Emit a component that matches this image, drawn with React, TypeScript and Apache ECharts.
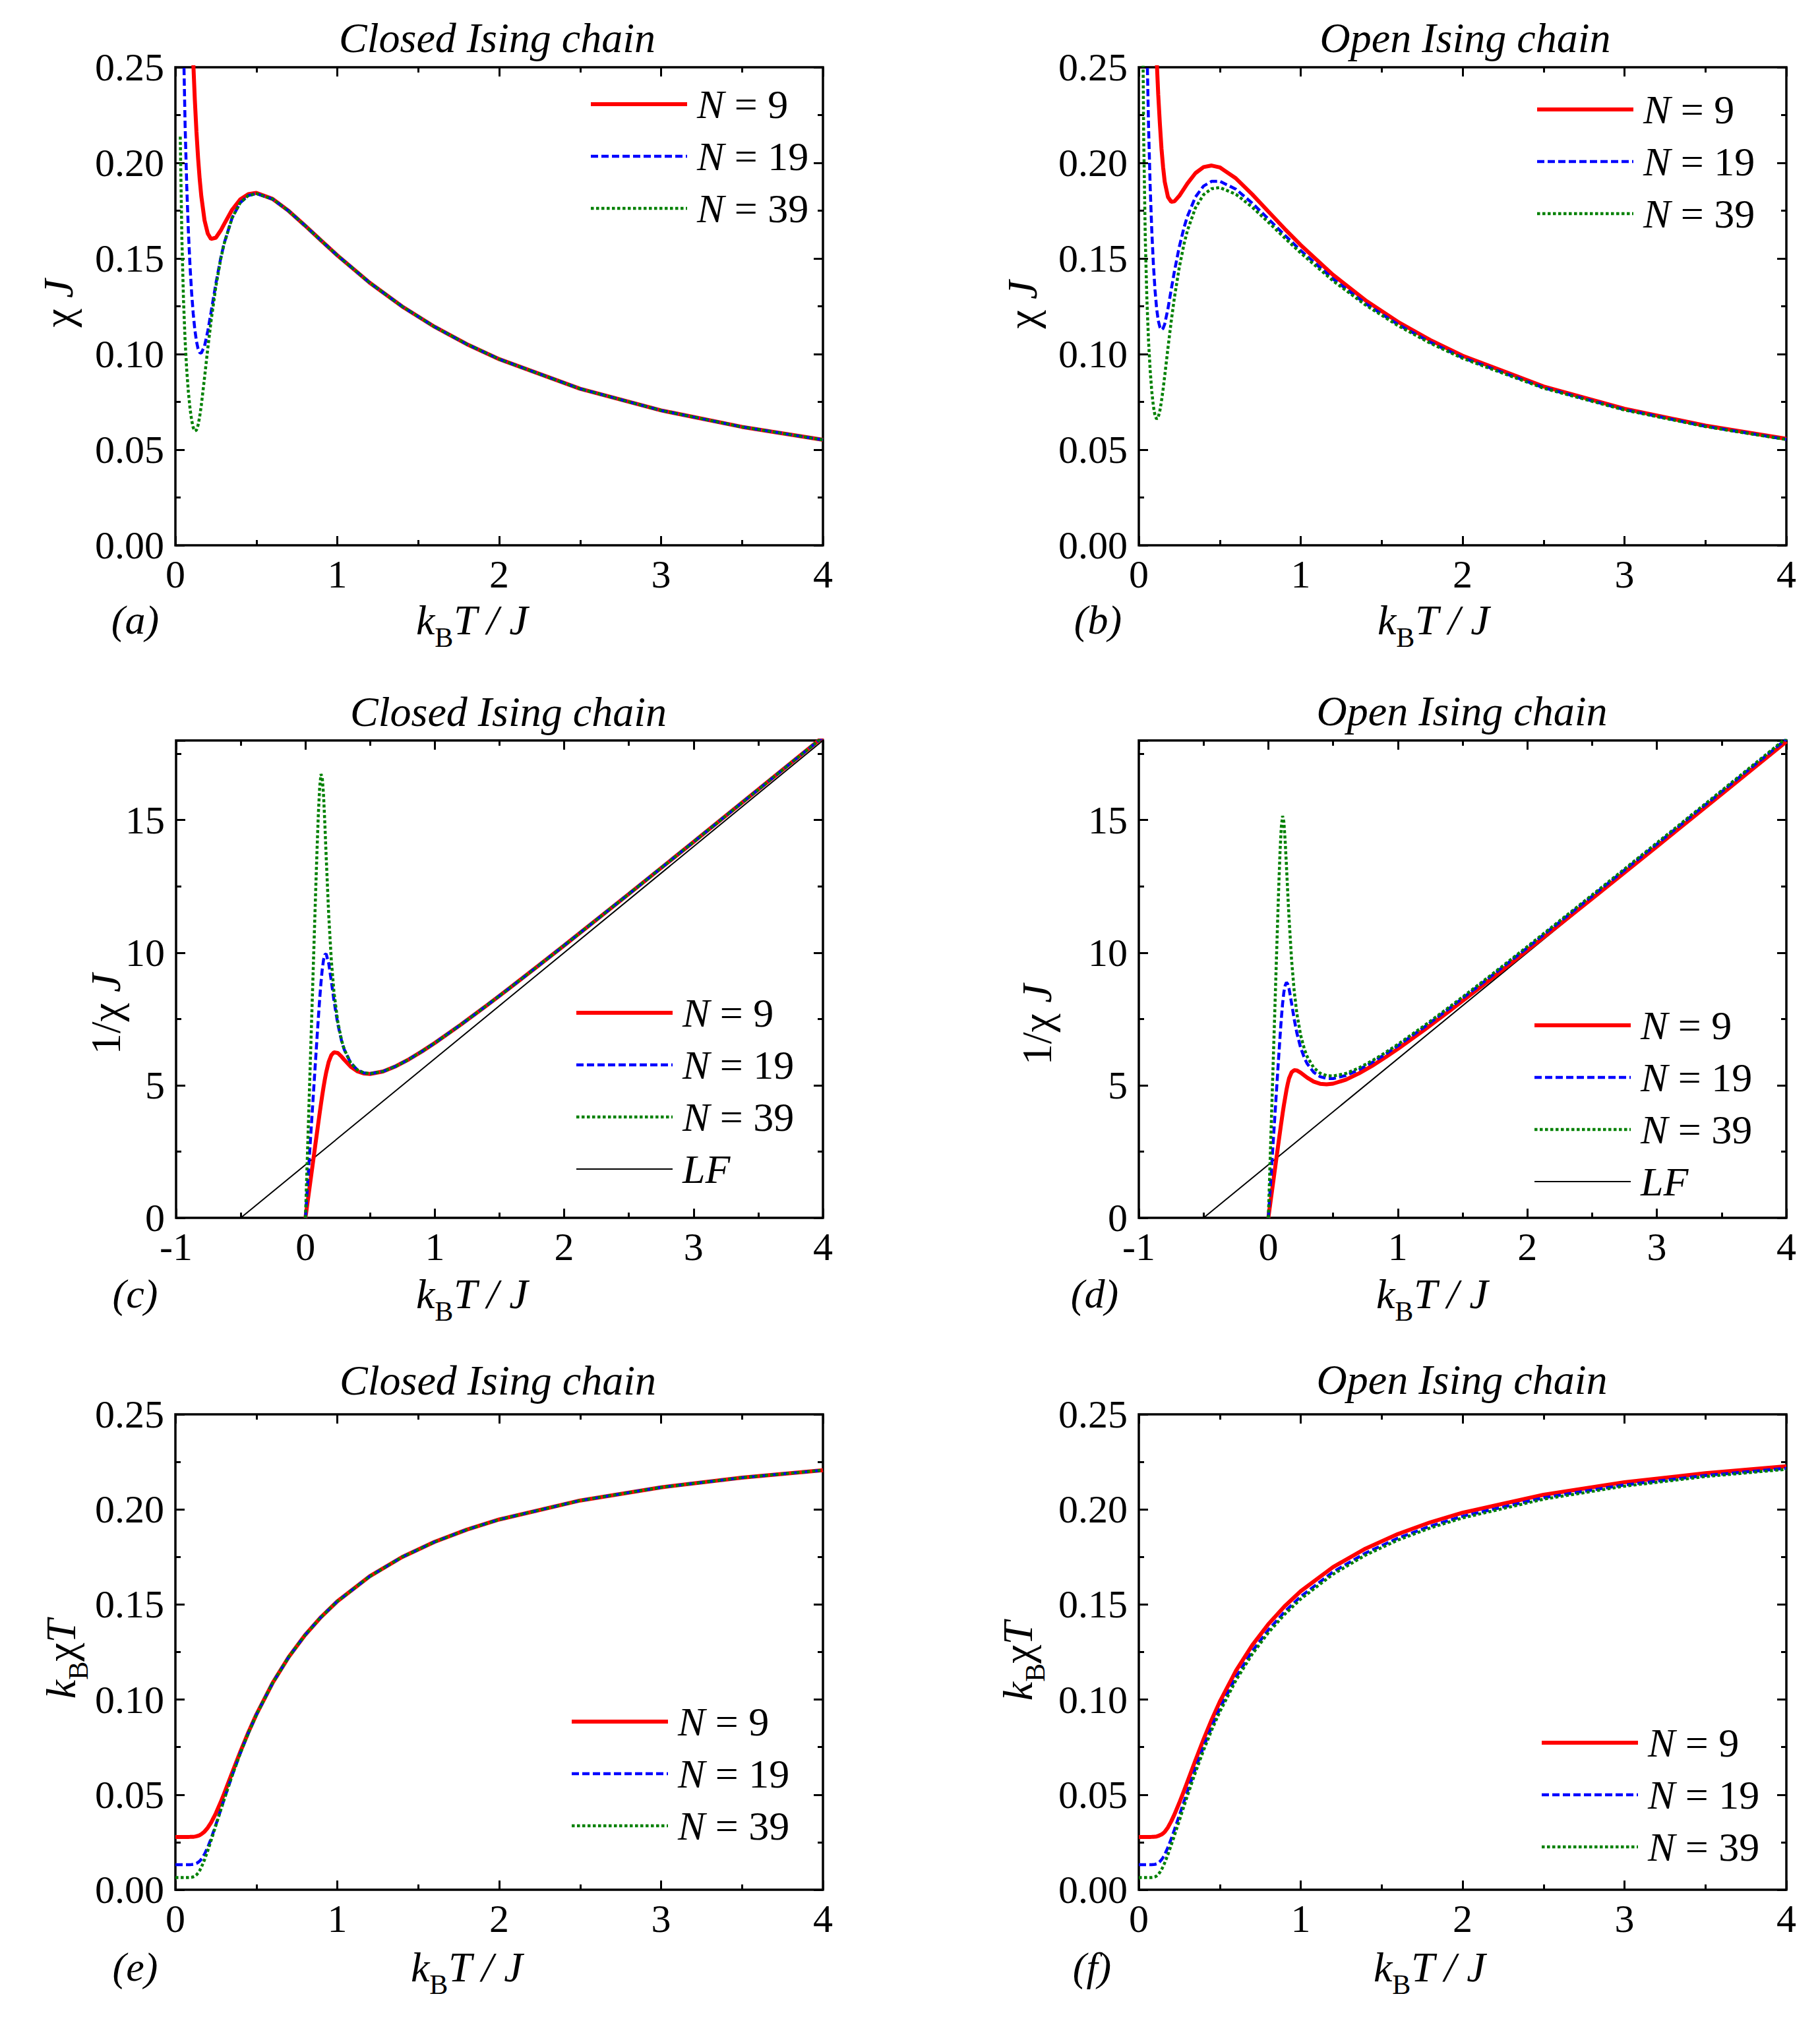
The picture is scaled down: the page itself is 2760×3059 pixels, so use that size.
import React, { useEffect, useRef } from "react";
import * as echarts from "echarts";

// ---------------- data ----------------
const T = [0, 0.02, 0.03, 0.04, 0.05, 0.06, 0.07, 0.08, 0.09, 0.1, 0.11, 0.12, 0.13, 0.14, 0.15, 0.16, 0.18, 0.2, 0.22, 0.25, 0.28, 0.3, 0.35, 0.4, 0.45, 0.5, 0.6, 0.7, 0.8, 0.9, 1, 1.2, 1.4, 1.6, 1.8, 2, 2.5, 3, 3.5, 4];

// (a) closed chain, chi*J
const closedChi9 = [null, 1.38889, 0.92593, 0.69444, 0.55556, 0.46296, 0.39683, 0.34726, 0.30877, 0.27812, 0.25329, 0.23298, 0.2163, 0.20263, 0.19151, 0.18258, 0.16992, 0.16303, 0.1602, 0.16087, 0.16464, 0.16781, 0.17544, 0.18085, 0.18366, 0.18429, 0.18117, 0.17486, 0.16727, 0.15938, 0.15163, 0.13734, 0.12494, 0.11432, 0.1052, 0.09735, 0.08187, 0.07054, 0.06192, 0.05516];
const closedChi19 = [null, 0.65789, 0.4386, 0.32895, 0.26316, 0.2193, 0.18797, 0.16455, 0.14647, 0.1323, 0.12124, 0.1128, 0.10671, 0.10274, 0.10073, 0.10047, 0.10425, 0.11203, 0.12177, 0.13688, 0.15019, 0.15762, 0.17121, 0.17907, 0.18288, 0.18394, 0.18108, 0.17484, 0.16727, 0.15938, 0.15163, 0.13734, 0.12494, 0.11432, 0.1052, 0.09735, 0.08187, 0.07054, 0.06192, 0.05516];
const closedChi39 = [null, null, 0.21368, 0.16026, 0.12821, 0.10684, 0.0916, 0.08028, 0.07177, 0.06557, 0.06156, 0.05977, 0.06022, 0.06281, 0.06729, 0.07325, 0.08771, 0.10294, 0.11715, 0.13534, 0.14971, 0.1574, 0.17118, 0.17907, 0.18288, 0.18394, 0.18108, 0.17484, 0.16727, 0.15938, 0.15163, 0.13734, 0.12494, 0.11432, 0.1052, 0.09735, 0.08187, 0.07054, 0.06192, 0.05516];

// (b) open chain, chi*J
const openChi9 = [null, 1.38889, 0.92593, 0.69444, 0.55556, 0.46296, 0.39683, 0.34733, 0.309, 0.27875, 0.25466, 0.23555, 0.22057, 0.2075, 0.19775, 0.19015, 0.18217, 0.17965, 0.17987, 0.18273, 0.18658, 0.18919, 0.19465, 0.19781, 0.1986, 0.19764, 0.19188, 0.18359, 0.17458, 0.16559, 0.15699, 0.1414, 0.12813, 0.1169, 0.10734, 0.09913, 0.08308, 0.07142, 0.06259, 0.05568];
const openChi19 = [null, 0.65789, 0.4386, 0.32895, 0.26316, 0.2193, 0.18797, 0.16469, 0.14696, 0.13356, 0.12387, 0.11753, 0.11412, 0.11266, 0.11345, 0.11571, 0.12379, 0.13365, 0.14333, 0.15612, 0.16641, 0.172, 0.18217, 0.1879, 0.19032, 0.19042, 0.1862, 0.17898, 0.17073, 0.16232, 0.15417, 0.13926, 0.12645, 0.11554, 0.10622, 0.09819, 0.08245, 0.07096, 0.06224, 0.0554];
const openChi39 = [null, 0.32051, 0.21368, 0.16026, 0.12821, 0.10684, 0.09166, 0.08056, 0.07269, 0.06785, 0.06599, 0.06697, 0.07038, 0.07538, 0.08166, 0.08858, 0.10316, 0.11712, 0.12962, 0.1454, 0.15783, 0.16451, 0.17653, 0.18337, 0.1865, 0.1871, 0.18357, 0.17686, 0.16896, 0.16081, 0.15287, 0.13828, 0.12568, 0.11491, 0.1057, 0.09776, 0.08215, 0.07074, 0.06207, 0.05528];

// (c) closed chain, 1/(chi*J)
const closedInv9 = [0, 0.72, 1.08, 1.44, 1.8, 2.16, 2.52, 2.8797, 3.2387, 3.5956, 3.948, 4.2922, 4.6232, 4.9351, 5.2215, 5.477, 5.885, 6.134, 6.2424, 6.2163, 6.0738, 5.959, 5.6999, 5.5294, 5.4448, 5.4262, 5.5198, 5.7189, 5.9784, 6.2745, 6.5949, 7.2811, 8.0037, 8.7477, 9.5054, 10.2722, 12.214, 14.1763, 16.1499, 18.1304];
const closedInv19 = [0, 1.52, 2.28, 3.04, 3.8, 4.56, 5.32, 6.0772, 6.8275, 7.5586, 8.2484, 8.8652, 9.3714, 9.7337, 9.9279, 9.9533, 9.5923, 8.9266, 8.212, 7.3059, 6.6581, 6.3445, 5.8407, 5.5846, 5.4679, 5.4366, 5.5223, 5.7196, 5.9784, 6.2745, 6.5949, 7.2811, 8.0037, 8.7477, 9.5054, 10.2722, 12.214, 14.1763, 16.1499, 18.1304];
const closedInv39 = [0, 3.12, 4.68, 6.24, 7.8, 9.36, 10.917, 12.457, 13.934, 15.251, 16.243, 16.731, 16.607, 15.922, 14.86, 13.652, 11.401, 9.714, 8.536, 7.389, 6.68, 6.353, 5.842, 5.585, 5.468, 5.437, 5.522, 5.72, 5.978, 6.275, 6.595, 7.281, 8.004, 8.748, 9.505, 10.272, 12.214, 14.176, 16.15, 18.13];

// (d) open chain, 1/(chi*J)
const openInv9 = [0, 0.72, 1.08, 1.44, 1.8, 2.16, 2.52, 2.8791, 3.2362, 3.5874, 3.9267, 4.2454, 4.5337, 4.8193, 5.0568, 5.259, 5.4895, 5.5664, 5.5595, 5.4726, 5.3598, 5.2857, 5.1373, 5.0555, 5.0351, 5.0596, 5.2116, 5.447, 5.7281, 6.0391, 6.3699, 7.0722, 7.8045, 8.5546, 9.3161, 10.0882, 12.0363, 14.0018, 15.9768, 17.9604];
const openInv19 = [0, 1.52, 2.28, 3.04, 3.8, 4.56, 5.32, 6.0721, 6.8048, 7.4873, 8.0728, 8.5088, 8.7625, 8.8765, 8.8147, 8.6426, 8.0779, 7.4825, 6.977, 6.4053, 6.0094, 5.814, 5.4895, 5.3221, 5.2544, 5.2514, 5.3707, 5.5872, 5.8572, 6.1608, 6.4863, 7.1806, 7.9081, 8.6551, 9.4147, 10.1842, 12.1292, 14.0931, 16.0675, 18.0494];
const openInv39 = [0, 3.12, 4.68, 6.24, 7.8, 9.36, 10.91, 12.413, 13.757, 14.738, 15.155, 14.932, 14.208, 13.266, 12.246, 11.29, 9.694, 8.539, 7.715, 6.877, 6.336, 6.079, 5.665, 5.454, 5.362, 5.345, 5.447, 5.654, 5.919, 6.219, 6.542, 7.232, 7.957, 8.702, 9.461, 10.229, 12.173, 14.136, 16.109, 18.091];

// (e) closed chain, kB*chi*T
const closedChiT9 = [0.027778, 0.027778, 0.027778, 0.027778, 0.027778, 0.027778, 0.027778, 0.027781, 0.027789, 0.027812, 0.027862, 0.027958, 0.028119, 0.028368, 0.028727, 0.029213, 0.030586, 0.032605, 0.035243, 0.040217, 0.0461, 0.050344, 0.061404, 0.072341, 0.082648, 0.092147, 0.1087, 0.122402, 0.133815, 0.143438, 0.151633, 0.16481, 0.174918, 0.182904, 0.189366, 0.1947, 0.204683, 0.21162, 0.21672, 0.220624];
const closedChiT19 = [0.013158, 0.013158, 0.013158, 0.013158, 0.013158, 0.013158, 0.013158, 0.013164, 0.013182, 0.01323, 0.013336, 0.013536, 0.013872, 0.014383, 0.015109, 0.016075, 0.018765, 0.022405, 0.02679, 0.034219, 0.042054, 0.047285, 0.059924, 0.071626, 0.082298, 0.09197, 0.10865, 0.122386, 0.133815, 0.143438, 0.151633, 0.16481, 0.174918, 0.182904, 0.189366, 0.1947, 0.204683, 0.21162, 0.21672, 0.220624];
const closedChiT39 = [0.00641, 0.00641, 0.00641, 0.00641, 0.00641, 0.00641, 0.006412, 0.006422, 0.006459, 0.006557, 0.006772, 0.007172, 0.007828, 0.008793, 0.010094, 0.01172, 0.015788, 0.020588, 0.025774, 0.033836, 0.041919, 0.047219, 0.059913, 0.071626, 0.082298, 0.09197, 0.10865, 0.122386, 0.133815, 0.143438, 0.151633, 0.16481, 0.174918, 0.182904, 0.189366, 0.1947, 0.204683, 0.21162, 0.21672, 0.220624];

// (f) open chain, kB*chi*T
const openChiT9 = [0.027778, 0.027778, 0.027778, 0.027778, 0.027778, 0.027778, 0.027778, 0.027786, 0.02781, 0.027875, 0.028013, 0.028266, 0.028674, 0.02905, 0.029663, 0.030424, 0.03279, 0.03593, 0.039572, 0.045682, 0.052241, 0.056757, 0.068129, 0.079122, 0.089372, 0.098822, 0.115129, 0.128511, 0.139662, 0.149028, 0.156988, 0.169679, 0.179385, 0.187035, 0.193214, 0.198252, 0.207705, 0.214258, 0.219067, 0.222713];
const openChiT19 = [0.013158, 0.013158, 0.013158, 0.013158, 0.013158, 0.013158, 0.013158, 0.013175, 0.013226, 0.013356, 0.013626, 0.014103, 0.014836, 0.015772, 0.017017, 0.018513, 0.022283, 0.026729, 0.031532, 0.03903, 0.046594, 0.0516, 0.063758, 0.075159, 0.085642, 0.095212, 0.111718, 0.125287, 0.136585, 0.146086, 0.15417, 0.167117, 0.177034, 0.184861, 0.191189, 0.196383, 0.206114, 0.21287, 0.217831, 0.221614];
const openChiT39 = [0.00641, 0.00641, 0.00641, 0.00641, 0.00641, 0.00641, 0.006416, 0.006445, 0.006542, 0.006785, 0.007259, 0.008037, 0.00915, 0.010553, 0.012249, 0.014172, 0.018569, 0.023423, 0.028517, 0.036351, 0.044193, 0.049352, 0.061786, 0.073347, 0.083927, 0.09355, 0.110144, 0.123799, 0.135165, 0.144728, 0.152869, 0.165934, 0.175949, 0.183857, 0.190254, 0.19552, 0.20538, 0.212229, 0.217261, 0.221106];

// linear fit (LF) line in (c) and (d)
const lfT = [-0.5, 4];
const lfY = [0, 18];

const seriesNames = ["N = 9", "N = 19", "N = 39"];
const yTicksChi = [0, 0.25, 0.05];
const yTicksInv = [0, 18, 5];

// ---------------- styling / layout ----------------
const FONT = "'Liberation Serif', 'Times New Roman', Times, serif";
const LINE_STYLES: any[] = [
  { color: "#ff0000", width: 6, type: "solid" },
  { color: "#0000ff", width: 4.5, type: [11, 5] },
  { color: "#008000", width: 4.5, type: [4.5, 3.5] },
];
const LF_STYLE: any = { color: "#000000", width: 2, type: "solid" };

const PANELS: any[] = [
  {
    grid: { left: 266, top: 102, width: 982, height: 725 }, xMin: 0, kind: "chi",
    data: [closedChi9, closedChi19, closedChi39], lf: false,
    legend: { left: 893, top: 127 }, title: "Closed Ising chain", titlePos: [754, 57],
    label: "(a)", labelPos: [205, 940], xNamePos: [716, 940],
    yName: "{u|\u03c7} {i|J}", yNamePos: [88, 460],
  },
  {
    grid: { left: 1727, top: 102, width: 982, height: 725 }, xMin: 0, kind: "chi",
    data: [openChi9, openChi19, openChi39], lf: false,
    legend: { left: 2328, top: 135 }, title: "Open Ising chain", titlePos: [2222, 57],
    label: "(b)", labelPos: [1665, 940], xNamePos: [2174, 940],
    yName: "{u|\u03c7} {i|J}", yNamePos: [1550, 462],
  },
  {
    grid: { left: 267, top: 1123, width: 981, height: 724 }, xMin: -1, kind: "inv",
    data: [closedInv9, closedInv19, closedInv39], lf: true,
    legend: { left: 871, top: 1505 }, title: "Closed Ising chain", titlePos: [771, 1079],
    label: "(c)", labelPos: [205, 1962], xNamePos: [716, 1962],
    yName: "{u|1/\u03c7} {i|J}", yNamePos: [160, 1538],
  },
  {
    grid: { left: 1727, top: 1123, width: 982, height: 724 }, xMin: -1, kind: "inv",
    data: [openInv9, openInv19, openInv39], lf: true,
    legend: { left: 2324, top: 1524 }, title: "Open Ising chain", titlePos: [2217, 1078],
    label: "(d)", labelPos: [1660, 1962], xNamePos: [2172, 1962],
    yName: "{u|1/\u03c7} {i|J}", yNamePos: [1572, 1554],
  },
  {
    grid: { left: 266, top: 2145, width: 982, height: 721 }, xMin: 0, kind: "chi",
    data: [closedChiT9, closedChiT19, closedChiT39], lf: false,
    legend: { left: 864, top: 2580 }, title: "Closed Ising chain", titlePos: [755, 2093],
    label: "(e)", labelPos: [205, 2983], xNamePos: [708, 2983],
    yName: "{i|k}{s|B}{u|\u03c7}{i|T}", yNamePos: [92, 2516],
  },
  {
    grid: { left: 1727, top: 2145, width: 982, height: 721 }, xMin: 0, kind: "chi",
    data: [openChiT9, openChiT19, openChiT39], lf: false,
    legend: { left: 2335, top: 2612 }, title: "Open Ising chain", titlePos: [2217, 2092],
    label: "(f)", labelPos: [1656, 2983], xNamePos: [2168, 2983],
    yName: "{i|k}{s|B}{u|\u03c7}{i|T}", yNamePos: [1543, 2519],
  },
];

const TICK_LINE = { color: "#000", width: 3 };
const RICH_NAME: any = {
  i: { fontStyle: "italic", fontSize: 64, fontFamily: FONT, lineHeight: 96, verticalAlign: "middle", fill: "#000" },
  u: { fontSize: 64, fontFamily: FONT, lineHeight: 96, verticalAlign: "middle", fill: "#000" },
  s: { fontSize: 42, fontFamily: FONT, lineHeight: 42, verticalAlign: "bottom", fill: "#000" },
};

function pairs(xs: number[], ys: (number | null)[]) {
  const out: number[][] = [];
  xs.forEach((x, i) => {
    const y = ys[i];
    if (y !== null && y !== undefined) out.push([x, y]);
  });
  return out;
}

function valueAxis(gi: number, position: string, min: number, max: number, interval: number,
  showLabel: boolean, fmt: any, tickLen: number, minor: boolean, margin: number) {
  return {
    type: "value", gridIndex: gi, position, min, max, interval,
    axisLine: { show: false, onZero: false },
    axisTick: { show: true, inside: true, length: tickLen, lineStyle: TICK_LINE },
    minorTick: { show: minor, splitNumber: 2, length: 8, lineStyle: TICK_LINE },
    splitLine: { show: false },
    minorSplitLine: { show: false },
    axisPointer: { show: false },
    axisLabel: {
      show: showLabel, formatter: fmt, fontSize: 60, lineHeight: 40,
      fontFamily: FONT, color: "#000", margin,
    },
  };
}

function textEl(x: number, y: number, text: string, extra: any = {}, rotation = 0) {
  return {
    type: "text", x, y, rotation, silent: true,
    style: {
      text, fontFamily: FONT, fontSize: 64, fill: "#000",
      align: "center", verticalAlign: "middle", textAlign: "center", textVerticalAlign: "middle",
      rich: RICH_NAME, ...extra,
    },
  };
}

function buildOption() {
  const grid: any[] = [];
  const xAxis: any[] = [];
  const yAxis: any[] = [];
  const series: any[] = [];
  const legend: any[] = [];
  const graphic: any[] = [];

  PANELS.forEach((p, gi) => {
    grid.push({ ...p.grid, show: true, borderWidth: 3.5, borderColor: "#000", backgroundColor: "transparent", containLabel: false, outerBoundsMode: "none" });

    const xi = xAxis.length;
    const xFmt = (v: number) => String(Math.round(v));
    xAxis.push(valueAxis(gi, "bottom", p.xMin, 4, 1, true, xFmt, 14, true, 24));
    xAxis.push(valueAxis(gi, "top", p.xMin, 4, 1, false, xFmt, 14, true, 24));

    const yi = yAxis.length;
    if (p.kind === "chi") {
      const [mn, mx, iv] = yTicksChi;
      const fmt = (v: number) => v.toFixed(2);
      yAxis.push(valueAxis(gi, "left", mn, mx, iv, true, fmt, 14, true, 17));
      yAxis.push(valueAxis(gi, "right", mn, mx, iv, false, fmt, 14, true, 17));
    } else {
      const [mn, mx, iv] = yTicksInv;
      const fmt = (v: number) => (Math.abs(v % iv) < 1e-9 ? String(Math.round(v)) : "");
      yAxis.push(valueAxis(gi, "left", mn, mx, iv, true, fmt, 14, false, 17));
      yAxis.push(valueAxis(gi, "right", mn, mx, iv, false, fmt, 14, false, 17));
      yAxis.push(valueAxis(gi, "left", mn, mx, iv / 2, false, fmt, 8, false, 17));
      yAxis.push(valueAxis(gi, "right", mn, mx, iv / 2, false, fmt, 8, false, 17));
    }

    if (p.lf) {
      series.push({
        type: "line", name: "LF", xAxisIndex: xi, yAxisIndex: yi,
        data: pairs(lfT, lfY), symbol: "none", showSymbol: false, silent: true, clip: true,
        lineStyle: LF_STYLE, animation: false,
      });
    }
    p.data.forEach((ys: (number | null)[], k: number) => {
      series.push({
        type: "line", name: seriesNames[k], xAxisIndex: xi, yAxisIndex: yi,
        data: pairs(T, ys), symbol: "none", showSymbol: false, smooth: false, silent: true, clip: true,
        lineStyle: LINE_STYLES[k], animation: false,
      });
    });

    const names = p.lf ? [...seriesNames, "LF"] : seriesNames;
    legend.push({
      show: true, orient: "vertical", left: p.legend.left, top: p.legend.top, padding: 0,
      itemGap: 17, itemWidth: 146, itemHeight: 20, selectedMode: false,
      data: names.map((n: string, k: number) => ({
        name: n,
        itemStyle: { opacity: 0 },
        lineStyle: n === "LF" ? LF_STYLE : LINE_STYLES[k],
      })),
      formatter: (n: string) => (n === "LF" ? "{i|LF}" : "{i|N}" + n.slice(1)),
      textStyle: {
        fontSize: 62, fontFamily: FONT, color: "#000", lineHeight: 62, padding: [0, 0, 0, 10],
        rich: { i: { fontStyle: "italic", fontSize: 62, fontFamily: FONT, color: "#000", lineHeight: 62 } },
      },
    });

    graphic.push(textEl(p.titlePos[0], p.titlePos[1], p.title, { fontStyle: "italic", fontSize: 64 }));
    graphic.push(textEl(p.labelPos[0], p.labelPos[1], p.label, { fontStyle: "italic", fontSize: 62 }));
    graphic.push(textEl(p.xNamePos[0], p.xNamePos[1], "{i|k}{s|B}{i|T / J}"));
    graphic.push(textEl(p.yNamePos[0], p.yNamePos[1], p.yName, {}, Math.PI / 2));
  });

  return {
    animation: false,
    backgroundColor: "#ffffff",
    textStyle: { fontFamily: FONT },
    grid, xAxis, yAxis, series, legend,
    graphic: { elements: graphic },
  };
}

export default function App() {
  const ref = useRef<HTMLDivElement>(null);
  useEffect(() => {
    if (!ref.current) return;
    const chart = echarts.init(ref.current, null, { renderer: "svg" });
    chart.setOption(buildOption() as any);
    return () => chart.dispose();
  }, []);
  return (
    <div
      ref={ref}
      style={{ position: "absolute", left: 0, top: 0, width: 2760, height: 3059, background: "#fff" }}
    />
  );
}
